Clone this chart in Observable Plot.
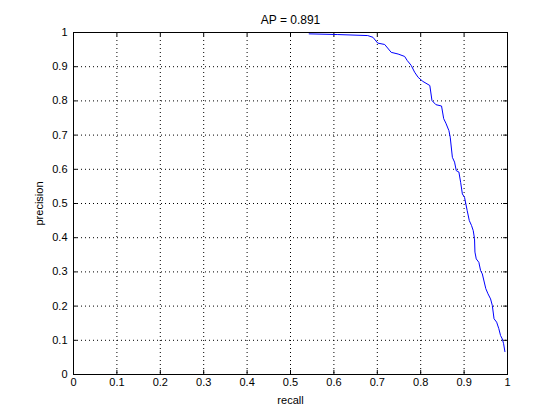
<!DOCTYPE html>
<html><head><meta charset="utf-8">
<script src="https://cdn.jsdelivr.net/npm/d3@7"></script>
<script src="https://cdn.jsdelivr.net/npm/@observablehq/plot@0.6"></script>
<style>body{margin:0;background:#fff}</style>
</head><body><div id="chart"></div>
<script>
const recall = [0.543,0.609,0.678,0.690,0.701,0.717,0.732,0.748,0.763,0.769,0.778,0.786,0.794,0.805,0.821,0.826,0.835,0.848,0.853,0.858,0.865,0.868,0.873,0.878,0.882,0.888,0.892,0.896,0.901,0.907,0.912,0.917,0.921,0.924,0.925,0.928,0.934,0.938,0.942,0.950,0.955,0.961,0.965,0.969,0.975,0.980,0.984,0.988,0.991,0.994];
const precision = [0.996,0.994,0.991,0.986,0.969,0.965,0.942,0.937,0.930,0.918,0.904,0.884,0.869,0.857,0.845,0.801,0.789,0.785,0.748,0.735,0.713,0.694,0.635,0.621,0.596,0.592,0.562,0.528,0.518,0.480,0.450,0.436,0.421,0.397,0.358,0.338,0.328,0.304,0.294,0.251,0.236,0.221,0.202,0.163,0.153,0.134,0.114,0.104,0.090,0.067];
const ticks = [0,0.1,0.2,0.3,0.4,0.5,0.6,0.7,0.8,0.9,1];
const title = "AP = 0.891";
const xLabel = "recall";
const yLabel = "precision";

const data = recall.map((r, i) => ({recall: r, precision: precision[i]}));
const fmt = d => String(d);

const chart = Plot.plot({
  width: 560, height: 420,
  marginLeft: 73, marginRight: 53, marginTop: 32, marginBottom: 46,
  style: {fontFamily: "'Liberation Sans', Arial, sans-serif", fontSize: "11px", color: "black", background: "white"},
  x: {domain: [0, 1]},
  y: {domain: [0, 1]},
  marks: [
    Plot.gridX(ticks, {stroke: "black", strokeOpacity: 1, strokeDasharray: "1,3"}),
    Plot.gridY(ticks, {stroke: "black", strokeOpacity: 1, strokeDasharray: "1,3"}),
    Plot.ruleX(ticks, {y1: 0, y2: 0.012, stroke: "black"}),
    Plot.ruleX(ticks, {y1: 1, y2: 0.988, stroke: "black"}),
    Plot.ruleY(ticks, {x1: 0, x2: 0.009, stroke: "black"}),
    Plot.ruleY(ticks, {x1: 1, x2: 0.991, stroke: "black"}),
    Plot.frame({stroke: "black"}),
    Plot.axisX({ticks, tickFormat: fmt, tickSize: 0, tickPadding: 4, label: xLabel, labelAnchor: "center", labelArrow: "none", labelOffset: 29}),
    Plot.axisY({ticks, tickFormat: fmt, tickSize: 0, tickPadding: 6, label: yLabel, labelAnchor: "center", labelArrow: "none", labelOffset: 38}),
    Plot.line(data, {x: "recall", y: "precision", stroke: "blue", strokeWidth: 1}),
    Plot.text([title], {frameAnchor: "top", lineAnchor: "bottom", dy: -9, fontSize: 12})
  ]
});
document.getElementById("chart").appendChild(chart);
</script>
</body></html>
